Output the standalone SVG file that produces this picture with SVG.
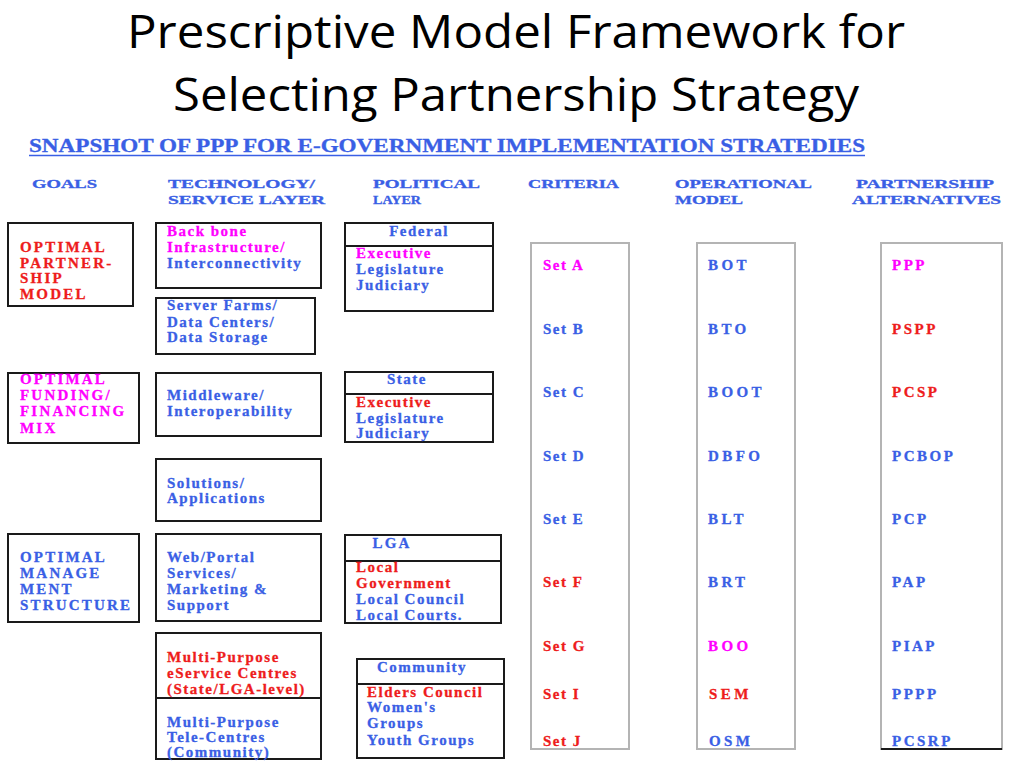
<svg xmlns="http://www.w3.org/2000/svg" width="1024" height="768" viewBox="0 0 1024 768">
<style>
.title{font-family:"Open Sans","Liberation Sans",sans-serif;font-size:46px;fill:#000}
.sub{font-family:"Liberation Serif",serif;font-weight:bold;font-size:18px;fill:#3a5fe5;stroke:#3a5fe5;stroke-width:0.3}
.h{font-family:"Liberation Serif",serif;font-weight:bold;font-size:13.5px;fill:#3a5fe5;stroke:#3a5fe5;stroke-width:0.35}
.t{font-family:"Liberation Serif",serif;font-weight:bold;font-size:15px;letter-spacing:1.5px}
.c{font-family:"Liberation Serif",serif;font-weight:bold;font-size:15px;letter-spacing:2.2px}
.op{letter-spacing:3.4px}
.pa{letter-spacing:2.5px}
.b{fill:#3a5fe5;stroke:#3a5fe5;stroke-width:0.3}
.r{fill:#ee1c1c;stroke:#ee1c1c;stroke-width:0.3}
.m{fill:#ff00ff;stroke:#ff00ff;stroke-width:0.3}
.box{fill:#fff;stroke:#1a1a1a;stroke-width:2}
.col{fill:#fff;stroke:#b4b4b4;stroke-width:2}
.div{stroke:#1a1a1a;stroke-width:2}
</style>
<rect width="1024" height="768" fill="#fff"/>
<g id="title">
<text class="title" x="127" y="48" textLength="778" lengthAdjust="spacingAndGlyphs">Prescriptive Model Framework for</text>
<text class="title" x="173" y="111" textLength="686" lengthAdjust="spacingAndGlyphs">Selecting Partnership Strategy</text>
</g>
<g id="subtitle">
<text class="sub" x="29" y="152" textLength="836" lengthAdjust="spacingAndGlyphs">SNAPSHOT OF PPP FOR E-GOVERNMENT IMPLEMENTATION STRATEDIES</text>
<line x1="29" y1="155.5" x2="865" y2="155.5" stroke="#3a5fe5" stroke-width="1.5"/>
</g>
<g id="headers">
<text class="h" x="32" y="188" textLength="65" lengthAdjust="spacingAndGlyphs">GOALS</text>
<text class="h" x="168" y="188" textLength="147" lengthAdjust="spacingAndGlyphs">TECHNOLOGY/</text>
<text class="h" x="168" y="204" textLength="157" lengthAdjust="spacingAndGlyphs">SERVICE LAYER</text>
<text class="h" x="373" y="188" textLength="107" lengthAdjust="spacingAndGlyphs">POLITICAL</text>
<text class="h" x="373" y="204" textLength="48" lengthAdjust="spacingAndGlyphs">LAYER</text>
<text class="h" x="528" y="188" textLength="91" lengthAdjust="spacingAndGlyphs">CRITERIA</text>
<text class="h" x="675" y="188" textLength="137" lengthAdjust="spacingAndGlyphs">OPERATIONAL</text>
<text class="h" x="675" y="204" textLength="68" lengthAdjust="spacingAndGlyphs">MODEL</text>
<text class="h" x="856" y="188" textLength="138" lengthAdjust="spacingAndGlyphs">PARTNERSHIP</text>
<text class="h" x="852" y="204" textLength="149" lengthAdjust="spacingAndGlyphs">ALTERNATIVES</text>
</g>

<g id="goal-partnership">
<rect class="box" x="8" y="223" width="125" height="83"/>
<text class="c r" x="20" y="252">OPTIMAL</text>
<text class="c r" x="20" y="268">PARTNER-</text>
<text class="c r" x="20" y="283">SHIP</text>
<text class="c r" x="20" y="299">MODEL</text>
</g>
<g id="goal-funding">
<rect class="box" x="8" y="373" width="131" height="70"/>
<text class="c m" x="20" y="384">OPTIMAL</text>
<text class="c m" x="20" y="400">FUNDING/</text>
<text class="c m" x="20" y="416">FINANCING</text>
<text class="c m" x="20" y="433">MIX</text>
</g>
<g id="goal-management">
<rect class="box" x="8" y="534" width="131" height="88"/>
<text class="c b" x="20" y="562">OPTIMAL</text>
<text class="c b" x="20" y="578">MANAGE</text>
<text class="c b" x="20" y="594">MENT</text>
<text class="c b" x="20" y="610" letter-spacing="2.6">STRUCTURE</text>
</g>

<g id="tech-backbone">
<rect class="box" x="156" y="223" width="165" height="65"/>
<text class="t m" x="167" y="236">Back bone</text>
<text class="t m" x="167" y="252">Infrastructure/</text>
<text class="t b" x="167" y="268">Interconnectivity</text>
</g>
<g id="tech-server">
<rect class="box" x="156" y="298" width="159" height="56"/>
<text class="t b" x="167" y="310">Server Farms/</text>
<text class="t b" x="167" y="327">Data Centers/</text>
<text class="t b" x="167" y="342">Data Storage</text>
</g>
<g id="tech-middleware">
<rect class="box" x="156" y="373" width="165" height="63"/>
<text class="t b" x="167" y="400">Middleware/</text>
<text class="t b" x="167" y="416">Interoperability</text>
</g>
<g id="tech-solutions">
<rect class="box" x="156" y="459" width="165" height="62"/>
<text class="t b" x="167" y="488">Solutions/</text>
<text class="t b" x="167" y="503">Applications</text>
</g>
<g id="tech-web">
<rect class="box" x="156" y="534" width="165" height="87"/>
<text class="t b" x="167" y="562">Web/Portal</text>
<text class="t b" x="167" y="578">Services/</text>
<text class="t b" x="167" y="594">Marketing &amp;</text>
<text class="t b" x="167" y="610">Support</text>
</g>
<g id="tech-centres">
<rect class="box" x="156" y="633" width="165" height="126"/>
<line class="div" x1="156" y1="698" x2="321" y2="698"/>
<text class="t r" x="167" y="662">Multi-Purpose</text>
<text class="t r" x="167" y="678">eService Centres</text>
<text class="t r" x="167" y="694" letter-spacing="1">(State/LGA-level)</text>
<text class="t b" x="167" y="727">Multi-Purpose</text>
<text class="t b" x="167" y="742">Tele-Centres</text>
<text class="t b" x="167" y="757">(Community)</text>
</g>

<g id="pol-federal">
<rect class="box" x="345" y="223" width="148" height="88"/>
<line class="div" x1="345" y1="246" x2="493" y2="246"/>
<text class="t b" x="419" y="236" text-anchor="middle">Federal</text>
<text class="t m" x="356" y="258">Executive</text>
<text class="t b" x="356" y="274">Legislature</text>
<text class="t b" x="356" y="290">Judiciary</text>
</g>
<g id="pol-state">
<rect class="box" x="345" y="372" width="148" height="70"/>
<line class="div" x1="345" y1="394" x2="493" y2="394"/>
<text class="t b" x="407" y="384" text-anchor="middle">State</text>
<text class="t r" x="356" y="407">Executive</text>
<text class="t b" x="356" y="423">Legislature</text>
<text class="t b" x="356" y="438">Judiciary</text>
</g>
<g id="pol-lga">
<rect class="box" x="345" y="535" width="156" height="88"/>
<line class="div" x1="345" y1="561" x2="501" y2="561"/>
<text class="c b" x="392" y="548" text-anchor="middle">LGA</text>
<text class="t r" x="356" y="572">Local</text>
<text class="t r" x="356" y="588">Government</text>
<text class="t b" x="356" y="604">Local Council</text>
<text class="t b" x="356" y="620">Local Courts.</text>
</g>
<g id="pol-community">
<rect class="box" x="357" y="659" width="147" height="99"/>
<line class="div" x1="357" y1="684" x2="504" y2="684"/>
<text class="t b" x="422" y="672" text-anchor="middle">Community</text>
<text class="t r" x="367" y="697">Elders Council</text>
<text class="t b" x="367" y="712">Women's</text>
<text class="t b" x="367" y="728">Groups</text>
<text class="t b" x="367" y="745">Youth Groups</text>
</g>

<g id="criteria">
<rect class="col" x="531" y="243" width="98" height="506"/>
<text class="t m" x="543" y="270">Set A</text>
<text class="t b" x="543" y="334">Set B</text>
<text class="t b" x="543" y="397">Set C</text>
<text class="t b" x="543" y="461">Set D</text>
<text class="t b" x="543" y="524">Set E</text>
<text class="t r" x="543" y="587">Set F</text>
<text class="t r" x="543" y="651">Set G</text>
<text class="t r" x="543" y="699">Set I</text>
<text class="t r" x="543" y="746">Set J</text>
</g>
<g id="operational">
<rect class="col" x="697" y="243" width="98" height="506"/>
<text class="c op b" x="708" y="270">BOT</text>
<text class="c op b" x="708" y="334">BTO</text>
<text class="c op b" x="708" y="397">BOOT</text>
<text class="c op b" x="708" y="461">DBFO</text>
<text class="c op b" x="708" y="524">BLT</text>
<text class="c op b" x="708" y="587">BRT</text>
<text class="c op m" x="708" y="651">BOO</text>
<text class="c op r" x="709" y="699">SEM</text>
<text class="c op b" x="709" y="746">OSM</text>
</g>
<g id="partnership">
<rect class="col" x="881" y="243" width="121" height="506"/>
<line x1="881" y1="749" x2="1002" y2="749" stroke="#1a1a1a" stroke-width="2"/>
<text class="c pa m" x="892" y="270">PPP</text>
<text class="c pa r" x="892" y="334">PSPP</text>
<text class="c pa r" x="892" y="397">PCSP</text>
<text class="c pa b" x="892" y="461">PCBOP</text>
<text class="c pa b" x="892" y="524">PCP</text>
<text class="c pa b" x="892" y="587">PAP</text>
<text class="c pa b" x="892" y="651">PIAP</text>
<text class="c pa b" x="892" y="699">PPPP</text>
<text class="c pa b" x="892" y="746">PCSRP</text>
</g>
<g id="connectors"></g>
</svg>
